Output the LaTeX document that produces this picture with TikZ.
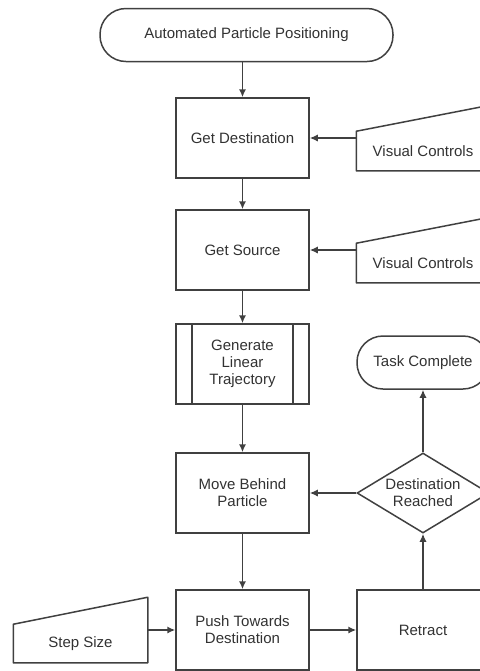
\documentclass[tikz,border=0pt]{standalone}
\usepackage{fontspec}
\setsansfont{Liberation Sans}
\usetikzlibrary{shapes.geometric, arrows.meta}

\definecolor{linegray}{RGB}{64,64,64}
\definecolor{textgray}{RGB}{50,50,50}

\tikzset{
  base/.style={draw=linegray, line width=0.75pt, text=textgray, align=center, inner sep=0pt,
    font=\sffamily\fontsize{7.5}{8.6}\selectfont},
  terminal/.style={base, rectangle, rounded corners=13pt, minimum height=26.5pt},
  process/.style={base, rectangle, minimum width=66.5pt, minimum height=40pt},
  subroutine/.style={process, path picture={
    \draw[linegray, line width=0.75pt]
      ([xshift=8pt]path picture bounding box.north west) -- ([xshift=8pt]path picture bounding box.south west)
      ([xshift=-8pt]path picture bounding box.north east) -- ([xshift=-8pt]path picture bounding box.south east);}},
  decision/.style={base, diamond, shape aspect=1.65, minimum width=66pt, minimum height=40pt},
  manual/.style={base, draw=none, rectangle, minimum width=66pt, minimum height=19pt,
    append after command={\pgfextra{\draw[linegray, line width=0.75pt, line join=round]
      (\tikzlastnode.south west) -- (\tikzlastnode.north west) -- ([yshift=#1]\tikzlastnode.north east)
      -- (\tikzlastnode.south east) -- cycle;}}},
  manual/.default=13pt,
  flow/.style={linegray, line width=0.75pt, -{Latex[length=4pt,width=3.6pt]}}
}

\begin{document}
\begin{tikzpicture}[x=0.5pt, y=-0.5pt]
\useasboundingbox (0,0) rectangle (480,671);
\clip (0,0) rectangle (480,671);

\node[terminal, minimum width=146.5pt] (start) at (246.5,35) {Automated Particle Positioning};
\node[process] (dest) at (242.5,138) {Get Destination};
\node[process] (src) at (242.5,250) {Get Source};
\node[subroutine] (traj) at (242.5,364) {Generate\\Linear\\Trajectory};
\node[process] (behind) at (242.5,493) {Move Behind\\Particle};
\node[process] (push) at (242.5,630) {Push Towards\\Destination};
\node[process, minimum width=66pt] (retract) at (423,630) {Retract};
\node[decision] (reached) at (423,493) {Destination\\Reached};
\node[terminal, minimum width=66pt] (done) at (423,362.5) {Task Complete};
\node[manual] (vcdest) at (423,151) {Visual Controls};
\node[manual] (vcsrc) at (423,263) {Visual Controls};
\node[manual=13.5pt, minimum width=66.5pt, minimum height=18.5pt] (stepsize) at (80.5,643.5) {Step Size};

\draw[flow] (start.south -| dest.north) -- (dest.north);
\draw[flow] (dest) -- (src);
\draw[flow] (src) -- (traj);
\draw[flow] (traj) -- (behind);
\draw[flow] (behind) -- (push);
\draw[flow] (vcdest.west |- dest) -- (dest.east);
\draw[flow] (vcsrc.west |- src) -- (src.east);
\draw[flow] (stepsize.east |- push) -- (push.west);
\draw[flow] (push) -- (retract);
\draw[flow] (retract) -- (reached);
\draw[flow] (reached) -- (behind);
\draw[flow] (reached) -- (done);
\end{tikzpicture}
\end{document}
